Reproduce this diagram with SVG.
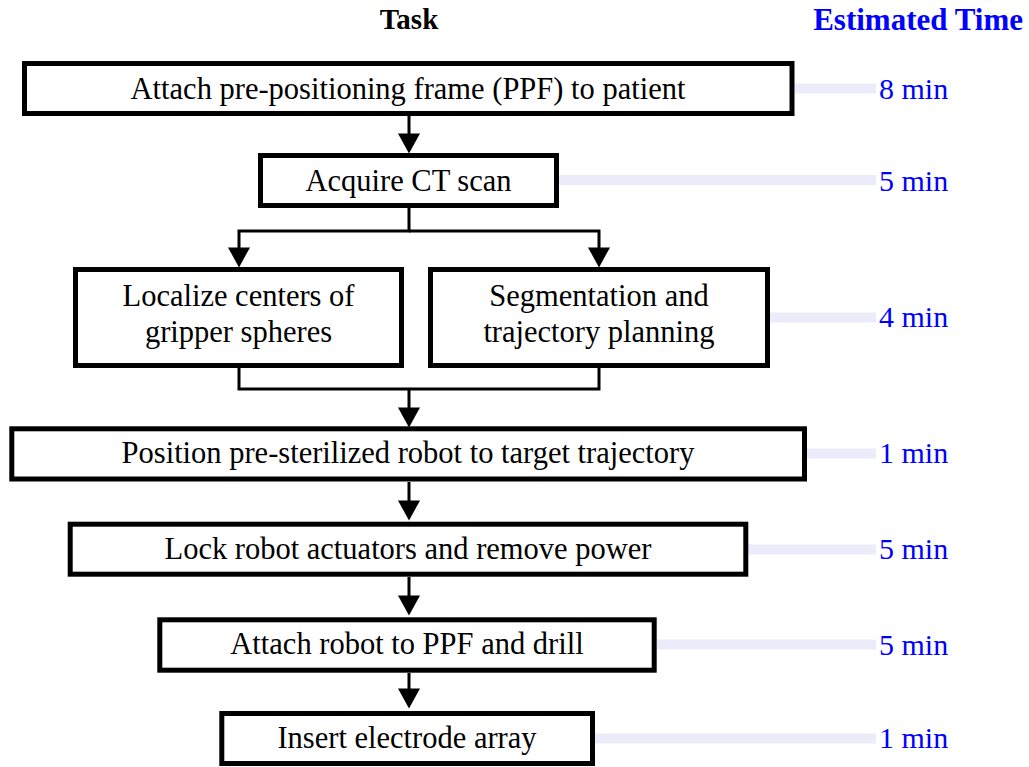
<svg xmlns="http://www.w3.org/2000/svg" width="1029" height="767" viewBox="0 0 1029 767">
<style>
.box{fill:#fff;stroke:#000;stroke-width:5}
.t{font-family:"Liberation Serif","Times New Roman",serif;font-size:30.5px;fill:#000;text-anchor:middle}
.h{font-family:"Liberation Serif","Times New Roman",serif;font-weight:bold}
.tm{font-family:"Liberation Serif","Times New Roman",serif;font-size:30px;fill:#0000ff}
.tl{stroke:#ebebfa;stroke-width:10;fill:none}
.c{stroke:#000;stroke-width:3;fill:none}
</style>
<defs>
<marker id="ah" markerUnits="userSpaceOnUse" markerWidth="22" markerHeight="22" viewBox="0 0 19 21" refX="11" refY="10.5" orient="auto">
<path d="M0,0 L19,10.5 L0,21 z" fill="#000"/>
</marker>
</defs>
<g id="headers">
<text class="h" x="409" y="29" font-size="29" text-anchor="middle" fill="#000">Task</text>
<text class="h" x="1023" y="30" font-size="31" text-anchor="end" fill="#0000ff">Estimated Time</text>
</g>
<g id="timelines">
<line class="tl" x1="795" y1="88.5" x2="876" y2="88.5"/>
<line class="tl" x1="559" y1="180" x2="876" y2="180"/>
<line class="tl" x1="770" y1="317.5" x2="876" y2="317.5"/>
<line class="tl" x1="807" y1="453.5" x2="876" y2="453.5"/>
<line class="tl" x1="748" y1="549.5" x2="876" y2="549.5"/>
<line class="tl" x1="657" y1="644.5" x2="876" y2="644.5"/>
<line class="tl" x1="595" y1="738.5" x2="876" y2="738.5"/>
</g>
<g id="times">
<text class="tm" x="879" y="99">8 min</text>
<text class="tm" x="879" y="191">5 min</text>
<text class="tm" x="879" y="327">4 min</text>
<text class="tm" x="879" y="463">1 min</text>
<text class="tm" x="879" y="559">5 min</text>
<text class="tm" x="879" y="655">5 min</text>
<text class="tm" x="879" y="748">1 min</text>
</g>
<g id="connectors">
<path class="c" d="M409,116 V145" marker-end="url(#ah)"/>
<path class="c" d="M409,208 V231 H239 V259" marker-end="url(#ah)"/>
<path class="c" d="M409,231 H599 V259" marker-end="url(#ah)"/>
<path class="c" d="M239,368 V389 H599 V368"/>
<path class="c" d="M409,389 V419" marker-end="url(#ah)"/>
<path class="c" d="M409,482 V512" marker-end="url(#ah)"/>
<path class="c" d="M409,577 V607" marker-end="url(#ah)"/>
<path class="c" d="M409,673 V700" marker-end="url(#ah)"/>
</g>
<g id="n1">
<rect class="box" x="24.5" y="63.5" width="767.5" height="50"/>
<text class="t" x="408" y="99">Attach pre-positioning frame (PPF) to patient</text>
</g>
<g id="n2">
<rect class="box" x="260.5" y="155.5" width="296" height="50"/>
<text class="t" x="408.5" y="191">Acquire CT scan</text>
</g>
<g id="n3a">
<rect class="box" x="75.5" y="269.5" width="326" height="96"/>
<text class="t" x="238.5" y="306">Localize centers of</text>
<text class="t" x="238.5" y="342">gripper spheres</text>
</g>
<g id="n3b">
<rect class="box" x="430.5" y="269.5" width="337" height="96"/>
<text class="t" x="599" y="306">Segmentation and</text>
<text class="t" x="599" y="342">trajectory planning</text>
</g>
<g id="n4">
<rect class="box" x="11.8" y="428.8" width="792.7" height="50.2"/>
<text class="t" x="408" y="463">Position pre-sterilized robot to target trajectory</text>
</g>
<g id="n5">
<rect class="box" x="70.2" y="524.2" width="675.6" height="50"/>
<text class="t" x="408" y="559">Lock robot actuators and remove power</text>
</g>
<g id="n6">
<rect class="box" x="159.8" y="619.8" width="494.4" height="50.4"/>
<text class="t" x="407" y="654">Attach robot to PPF and drill</text>
</g>
<g id="n7">
<rect class="box" x="221.8" y="713.5" width="370.7" height="50"/>
<text class="t" x="407" y="748">Insert electrode array</text>
</g>
</svg>
